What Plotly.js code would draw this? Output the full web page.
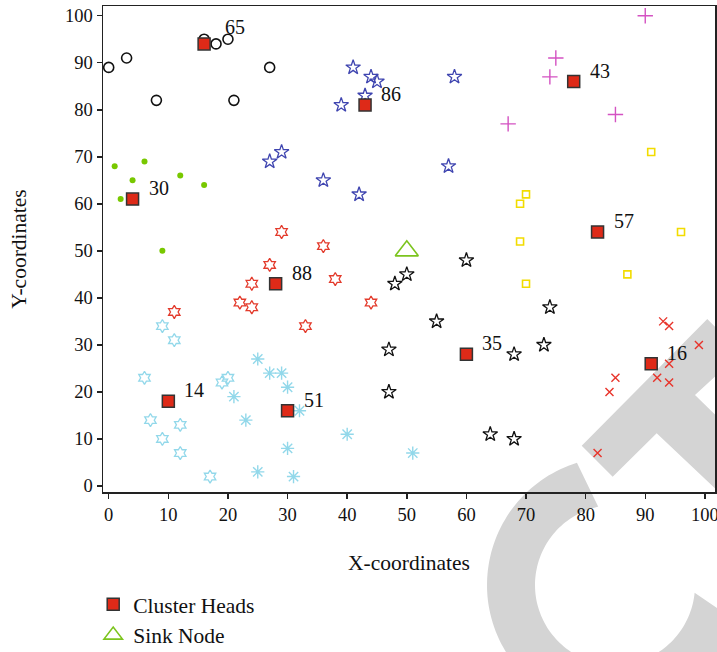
<!DOCTYPE html>
<html>
<head>
<meta charset="utf-8">
<script src="https://cdn.plot.ly/plotly-3.0.1.min.js"></script>
<style>html,body{margin:0;padding:0;background:#fff;}#chart{width:717px;height:652px;}</style>
</head>
<body>
<div id="chart"></div>
<script>
// ---- data ----
const chX = [16, 4, 43, 78, 82, 28, 60, 91, 10, 30];
const chY = [94, 61, 81, 86, 54, 43, 28, 26, 18, 16];
const chLabels = ['65', '30', '86', '43', '57', '88', '35', '16', '14', '51'];

const sinkX = [50];
const sinkY = [50];

const c65X = [0, 3, 8, 16, 18, 20, 21, 27];
const c65Y = [89, 91, 82, 95, 94, 95, 82, 89];
const c30X = [1, 6, 4, 12, 16, 2, 9];
const c30Y = [68, 69, 65, 66, 64, 61, 50];
const c86X = [41, 44, 45, 43, 39, 58, 57, 36, 42, 27, 29];
const c86Y = [89, 87, 86, 83, 81, 87, 68, 65, 62, 69, 71];
const c43X = [90, 75, 74, 85, 67];
const c43Y = [100, 91, 87, 79, 77];
const c57X = [91, 70, 69, 96, 69, 87, 70];
const c57Y = [71, 62, 60, 54, 52, 45, 43];
const c88X = [29, 27, 24, 22, 24, 11, 33, 36, 38, 44];
const c88Y = [54, 47, 43, 39, 38, 37, 34, 51, 44, 39];
const c35X = [50, 48, 60, 55, 47, 47, 68, 64, 68, 74, 73];
const c35Y = [45, 43, 48, 35, 29, 20, 28, 11, 10, 38, 30];
const c16X = [93, 94, 99, 94, 92, 94, 85, 84, 82];
const c16Y = [35, 34, 30, 26, 23, 22, 23, 20, 7];
const c14X = [9, 11, 6, 19, 20, 7, 12, 9, 12, 17];
const c14Y = [34, 31, 23, 22, 23, 14, 13, 10, 7, 2];
const c51X = [25, 27, 29, 30, 21, 32, 23, 30, 25, 31, 40, 51];
const c51Y = [27, 24, 24, 21, 19, 16, 14, 8, 3, 2, 11, 7];

const xTicks = [0, 10, 20, 30, 40, 50, 60, 70, 80, 90, 100];
const yTicks = [0, 10, 20, 30, 40, 50, 60, 70, 80, 90, 100];

// ---- styles ----
const SERIF = '"Liberation Serif", "Times New Roman", serif';
function member(x, y, symbol, color, size, lw) {
  return {
    x: x, y: y, type: 'scatter', mode: 'markers', showlegend: false, hoverinfo: 'skip',
    marker: { symbol: symbol, size: size, color: color, line: { color: color, width: lw } }
  };
}

const traces = [
  member(c65X, c65Y, 'circle-open', '#111111', 10, 1.6),
  member(c30X, c30Y, 'circle', '#78c800', 6, 0),
  member(c86X, c86Y, 'star-open', '#3f45b0', 11, 1.3),
  member(c43X, c43Y, 'cross-thin-open', '#d452c2', 11, 1.4),
  member(c57X, c57Y, 'square-open', '#f2dc00', 7, 1.6),
  member(c88X, c88Y, 'hexagram-open', '#e33a2b', 10, 1.3),
  member(c35X, c35Y, 'star-open', '#111111', 11, 1.3),
  member(c16X, c16Y, 'x-thin-open', '#e8332a', 8, 1.4),
  member(c14X, c14Y, 'hexagram-open', '#92d8ea', 10, 1.3),
  member(c51X, c51Y, 'asterisk-open', '#92d8ea', 11, 1.4),
  {
    x: chX, y: chY, type: 'scatter', mode: 'markers', name: 'Cluster Heads', hoverinfo: 'skip',
    marker: { symbol: 'square', size: 12, color: '#de2a18', line: { color: '#333333', width: 1.5 } }
  },
  {
    x: sinkX, y: sinkY, type: 'scatter', mode: 'markers', name: 'Sink Node', hoverinfo: 'skip',
    marker: { symbol: 'triangle-up-open', size: 20, color: '#7cc41e', line: { color: '#7cc41e', width: 1.6 } }
  }
];

const annotations = chX.map((x, i) => ({
  x: x, y: chY[i], xref: 'x', yref: 'y', text: chLabels[i], showarrow: false,
  xanchor: 'left', yanchor: 'middle',
  xshift: chLabels[i] === '65' ? 19 : 14,
  yshift: chLabels[i] === '65' ? 17 : 11,
  font: { family: SERIF, size: 20, color: '#111' }
}));

// ---- watermark (decoration, drawn in page pixels) ----
const L = 103, T = 6, PW = 612, PH = 486;
function px(x, y) { return ((x - L) / PW).toFixed(4) + ',' + ((T + PH - y) / PH).toFixed(4); }
const band = [[581.7,445.7],[707.3,319],[720,331.7],[720,372],[695,395],[720,419.5],[720,493],[656.7,433.3],[612.7,476.7]];
let bandPath = 'M' + band.map(p => px(p[0], p[1])).join('L') + 'Z';
const cx = 615, cy = 585, R = 128, r = 80;
let ring = [];
for (let a = -107.3; a >= -343.2; a -= 2) ring.push([cx + R * Math.cos(a * Math.PI / 180), cy + R * Math.sin(a * Math.PI / 180)]);
ring.push([cx + R * Math.cos(-343.2 * Math.PI / 180), cy + R * Math.sin(-343.2 * Math.PI / 180)]);
for (let a = -354.4; a <= -102.1; a += 2) ring.push([cx + r * Math.cos(a * Math.PI / 180), cy + r * Math.sin(a * Math.PI / 180)]);
ring.push([cx + r * Math.cos(-102.1 * Math.PI / 180), cy + r * Math.sin(-102.1 * Math.PI / 180)]);
let ringPath = 'M' + ring.map(p => px(p[0], p[1])).join('L') + 'Z';

const shapes = [
  { type: 'path', xref: 'paper', yref: 'paper', path: bandPath, fillcolor: '#d4d4d4', line: { width: 0 }, layer: 'below' },
  { type: 'path', xref: 'paper', yref: 'paper', path: ringPath, fillcolor: '#d4d4d4', line: { width: 0 }, layer: 'below' }
];

const axisCommon = {
  showgrid: false, zeroline: false, showline: true, mirror: true, automargin: false,
  ticklabeloverflow: 'allow',
  linecolor: '#222', linewidth: 1.5, ticks: 'outside', ticklen: 5, tickwidth: 1.5, tickcolor: '#222',
  tickfont: { family: SERIF, size: 18.5, color: '#111' }
};

const layout = {
  width: 717, height: 652,
  margin: { l: 103, r: 2, t: 6, b: 160, autoexpand: false },
  paper_bgcolor: '#fff', plot_bgcolor: 'rgba(0,0,0,0)',
  xaxis: Object.assign({}, axisCommon, {
    range: [-0.96, 101.7], tickvals: xTicks, ticktext: xTicks.map(String),
    title: { text: 'X-coordinates', font: { family: SERIF, size: 21.5, color: '#111' }, standoff: 31 }
  }),
  yaxis: Object.assign({}, axisCommon, {
    range: [-1.28, 102.06], tickvals: yTicks, ticktext: yTicks.map(String),
    title: { text: 'Y-coordinates', font: { family: SERIF, size: 21.5, color: '#111' }, standoff: 32 }
  }),
  showlegend: true,
  legend: {
    x: -0.016, y: -0.1886, xanchor: 'left', yanchor: 'top',
    font: { family: SERIF, size: 21.5, color: '#111' }, bgcolor: 'rgba(0,0,0,0)'
  },
  annotations: annotations,
  shapes: shapes
};

Plotly.newPlot('chart', traces, layout, { staticPlot: true, displayModeBar: false });
</script>
</body>
</html>
